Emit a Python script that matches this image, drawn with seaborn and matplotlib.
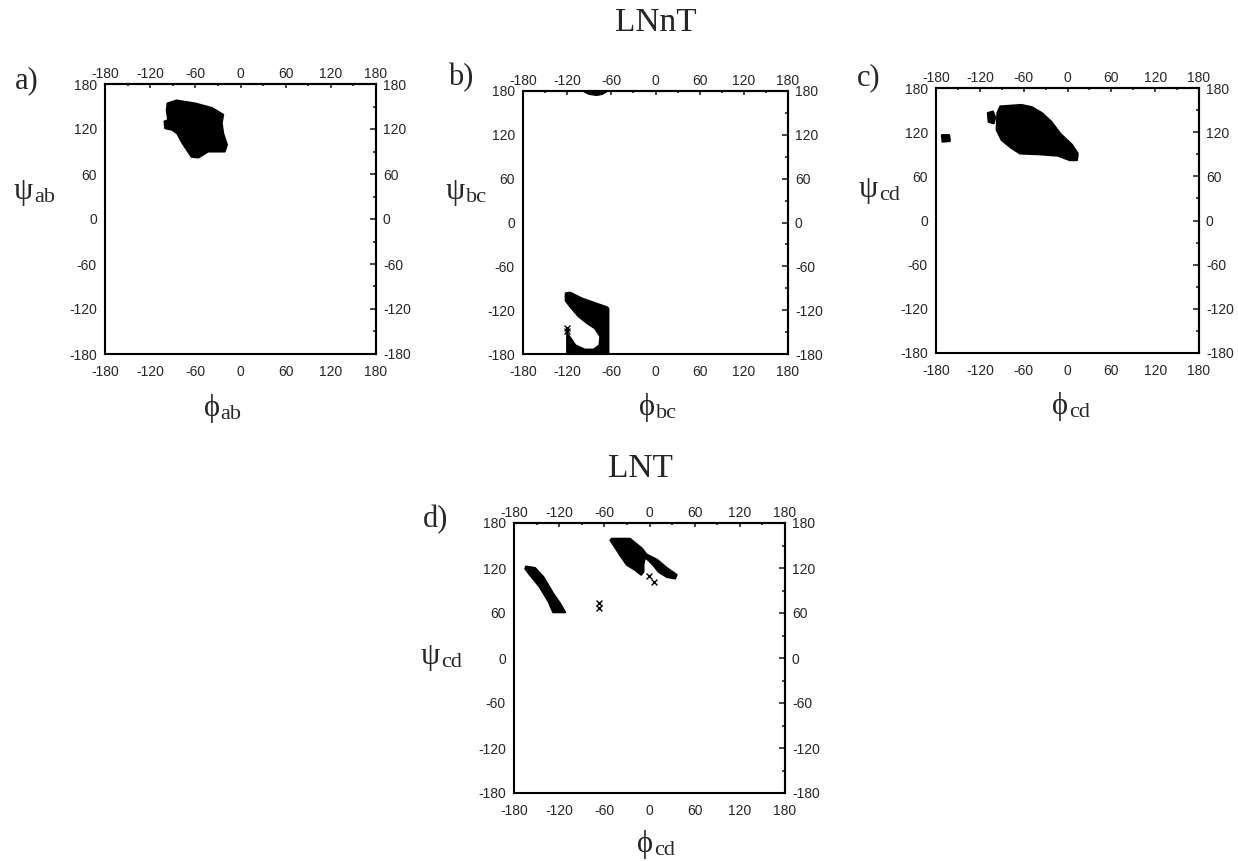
import matplotlib
matplotlib.use("Agg")
import matplotlib.pyplot as plt
from matplotlib.ticker import MultipleLocator
import seaborn as sns

W, H = 1238, 861
SANS = ["Liberation Sans", "DejaVu Sans"]
SERIF = ["Liberation Serif", "DejaVu Serif"]

# occupied regions, outlines as (phi, psi) in degrees
A_BLOB = [(-97, 154), (-85, 158), (-60, 154), (-38, 148), (-23, 139), (-25, 128),
          (-23, 114), (-18, 99), (-21, 90), (-43, 90), (-56, 82), (-65, 83),
          (-71, 92), (-77, 101), (-84, 114), (-91, 119), (-100, 121), (-101, 130),
          (-96, 132), (-98, 145)]

B_HOOK = [(-122, -97), (-116, -96), (-100, -104), (-66, -116), (-64, -118),
          (-64, -180), (-120, -180), (-120, -152), (-117, -156), (-109, -168),
          (-96, -174), (-84, -174), (-76, -168), (-75, -156), (-82, -145),
          (-94, -137), (-105, -128), (-116, -115), (-122, -107)]
B_TOP = [(-98, 180), (-66, 180), (-72, 176), (-80, 174.5), (-90, 176)]
B_MARK_PHI = [-120, -120]
B_MARK_PSI = [-144, -149]

C_BLOB = [(-92, 155), (-63, 157), (-49, 154), (-35, 146), (-22, 134), (-10, 118),
          (6, 103), (14, 91), (13, 82), (3, 82), (-13, 88), (-40, 90), (-65, 91),
          (-76, 98), (-90, 109), (-97, 123), (-96, 146)]
C_SMALL = [(-109, 146), (-102, 148), (-99, 140), (-101, 132), (-108, 134)]
C_ISO = [(-172, 116), (-162, 116), (-161, 108), (-171, 107)]

D_BAND = [(-164, 122), (-152, 120), (-141, 108), (-128, 86), (-119, 73), (-112, 61),
          (-128, 61), (-134, 75), (-146, 95), (-159, 111), (-165, 119)]
D_UPPER = [(-52, 157), (-50, 159), (-26, 159), (-10, 146), (-4, 138), (10, 131),
           (23, 120), (36, 111), (34, 106), (23, 108), (12, 115), (5, 124),
           (-2, 131), (-6, 134), (-8, 125), (-8, 115), (-11, 111), (-20, 118),
           (-30, 124), (-39, 137), (-46, 148)]
D_MARK_PHI = [-1, 6, -67, -67]
D_MARK_PSI = [109, 102, 73, 67]

TICKS = [-180, -120, -60, 0, 60, 120, 180]

sns.set_style("white")
plt.rcParams["font.family"] = SANS
plt.rcParams["axes.linewidth"] = 1.5
plt.rcParams["axes.unicode_minus"] = False


def px_box(left, top, right, bottom):
    return [left / W, 1 - bottom / H, (right - left) / W, (bottom - top) / H]


def setup(ax):
    ax.set_xlim(-180, 180)
    ax.set_ylim(-180, 180)
    ax.set_xticks(TICKS)
    ax.set_yticks(TICKS)
    ax.xaxis.set_minor_locator(MultipleLocator(30))
    ax.yaxis.set_minor_locator(MultipleLocator(30))
    ax.tick_params(axis="x", which="major", direction="in", length=3, width=1.2,
                   labelsize=10, pad=8, top=False)
    ax.tick_params(axis="x", which="minor", direction="in", length=1.7, width=1.2, top=False)
    ax.tick_params(axis="y", which="major", direction="out", length=4.3, width=1.2,
                   labelsize=10, pad=1.5, right=False)
    ax.tick_params(axis="y", which="minor", direction="out", length=2, width=1.2, right=False)
    ax.set_xlabel("")
    ax.set_ylabel("")
    for s in ax.spines.values():
        s.set_linewidth(1.5)
        s.set_color("black")

    top = ax.secondary_xaxis("top")
    top.set_xticks(TICKS)
    top.xaxis.set_minor_locator(MultipleLocator(30))
    top.tick_params(which="major", direction="in", length=3, width=1.2, labelsize=10, pad=2)
    top.tick_params(which="minor", direction="in", length=1.7, width=1.2)

    right = ax.secondary_yaxis("right")
    right.set_yticks(TICKS)
    right.yaxis.set_minor_locator(MultipleLocator(30))
    right.tick_params(which="major", direction="in", length=4, width=1.2, labelsize=10, pad=5)
    right.tick_params(which="minor", direction="in", length=2, width=1.2)


def region(ax, pts):
    phi = [p[0] for p in pts]
    psi = [p[1] for p in pts]
    ax.fill(phi, psi, color="black", lw=1.5, joinstyle="round")


def marks(ax, phi, psi):
    sns.scatterplot(x=phi, y=psi, marker="x", color="black", s=18, linewidth=1, ax=ax)


def greek_label(ax, x, y, greek, sub):
    # x: left of greek letter, y: baseline of subscript (pixels from top-left)
    t = ax.figure.text(x / W, 1 - (y - 3) / H, greek, family=SERIF, fontsize=22,
                       ha="left", va="baseline")
    ax.annotate(sub, xy=(1, 1 - y / H), xycoords=(t, "figure fraction"),
                xytext=(0.5, 0), textcoords="offset points", family=SERIF,
                fontsize=16, ha="left", va="baseline", annotation_clip=False)


def panel_tag(fig, x, y, tag):
    fig.text(x / W, 1 - y / H, tag, family=SERIF, fontsize=22, ha="left", va="baseline")


fig = plt.figure(figsize=(W / 100, H / 100), dpi=100)

ax_a = fig.add_axes(px_box(105, 84, 376, 354))
ax_b = fig.add_axes(px_box(523, 91, 788, 354))
ax_c = fig.add_axes(px_box(936, 88, 1199, 353))
ax_d = fig.add_axes(px_box(514, 523, 785, 793))

for ax in (ax_a, ax_b, ax_c, ax_d):
    setup(ax)

region(ax_a, A_BLOB)

region(ax_b, B_HOOK)
region(ax_b, B_TOP)
marks(ax_b, B_MARK_PHI, B_MARK_PSI)

region(ax_c, C_BLOB)
region(ax_c, C_SMALL)
region(ax_c, C_ISO)

region(ax_d, D_BAND)
region(ax_d, D_UPPER)
marks(ax_d, D_MARK_PHI, D_MARK_PSI)

for ax in (ax_a, ax_b, ax_c, ax_d):
    ax.set_xlim(-180, 180)
    ax.set_ylim(-180, 180)

greek_label(ax_a, 14, 202, "ψ", "ab")
greek_label(ax_a, 204, 419, "ϕ", "ab")
greek_label(ax_b, 446, 202, "ψ", "bc")
greek_label(ax_b, 639, 418, "ϕ", "bc")
greek_label(ax_c, 859, 200, "ψ", "cd")
greek_label(ax_c, 1052, 417, "ϕ", "cd")
greek_label(ax_d, 421, 667, "ψ", "cd")
greek_label(ax_d, 637, 855, "ϕ", "cd")

panel_tag(fig, 15, 88, "a)")
panel_tag(fig, 448, 85, "b)")
panel_tag(fig, 857, 85, "c)")
panel_tag(fig, 423, 527, "d)")

fig.text(656 / W, 1 - 31 / H, "LNnT", family=SERIF, fontsize=24, ha="center", va="baseline")
fig.text(640 / W, 1 - 477 / H, "LNT", family=SERIF, fontsize=24, ha="center", va="baseline")

fig.savefig("out.png", dpi=100, facecolor="white")
